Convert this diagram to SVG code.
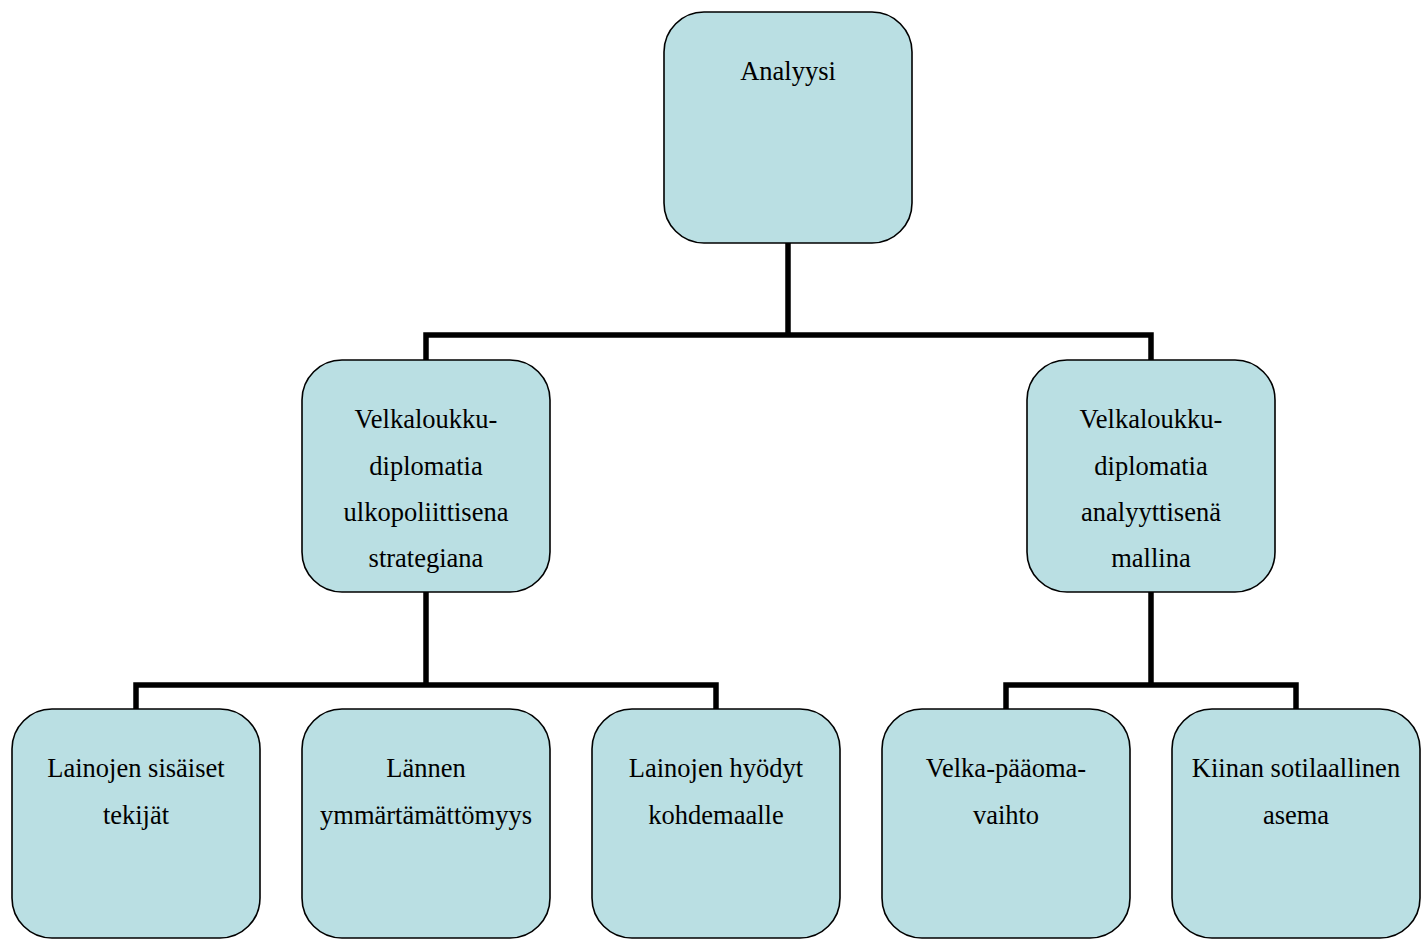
<svg xmlns="http://www.w3.org/2000/svg" width="1428" height="939" viewBox="0 0 1428 939">
<style>
.box{fill:#badfe3;stroke:#000;stroke-width:1.6}
.t{font-family:"Liberation Serif","Times New Roman",serif;font-size:26.5px;fill:#000;text-anchor:middle}
.c{fill:none;stroke:#000;stroke-width:5.5}
</style>
<rect width="1428" height="939" fill="#fff"/>
<g id="connectors">
<path class="c" d="M788 243V335M426 360V335H1151V360"/>
<path class="c" d="M426 592V685M136 709V685H716V709"/>
<path class="c" d="M1151 592V685M1006 709V685H1296V709"/>
</g>
<g id="n-root"><rect class="box" x="664" y="12" width="248" height="231" rx="40"/><text class="t" x="788" y="80">Analyysi</text></g>
<g id="n-left"><rect class="box" x="302" y="360" width="248" height="232" rx="40"/>
<text class="t" x="426" y="428">Velkaloukku-</text><text class="t" x="426" y="474.5">diplomatia</text><text class="t" x="426" y="521">ulkopoliittisena</text><text class="t" x="426" y="567">strategiana</text></g>
<g id="n-right"><rect class="box" x="1027" y="360" width="248" height="232" rx="40"/>
<text class="t" x="1151" y="428">Velkaloukku-</text><text class="t" x="1151" y="474.5">diplomatia</text><text class="t" x="1151" y="521">analyyttisenä</text><text class="t" x="1151" y="567">mallina</text></g>
<g id="n-a"><rect class="box" x="12" y="709" width="248" height="229" rx="40"/><text class="t" x="136" y="777">Lainojen sisäiset</text><text class="t" x="136" y="824">tekijät</text></g>
<g id="n-b"><rect class="box" x="302" y="709" width="248" height="229" rx="40"/><text class="t" x="426" y="777">Lännen</text><text class="t" x="426" y="824">ymmärtämättömyys</text></g>
<g id="n-c"><rect class="box" x="592" y="709" width="248" height="229" rx="40"/><text class="t" x="716" y="777">Lainojen hyödyt</text><text class="t" x="716" y="824">kohdemaalle</text></g>
<g id="n-d"><rect class="box" x="882" y="709" width="248" height="229" rx="40"/><text class="t" x="1006" y="777">Velka-pääoma-</text><text class="t" x="1006" y="824">vaihto</text></g>
<g id="n-e"><rect class="box" x="1172" y="709" width="248" height="229" rx="40"/><text class="t" x="1296" y="777">Kiinan sotilaallinen</text><text class="t" x="1296" y="824">asema</text></g>
</svg>
